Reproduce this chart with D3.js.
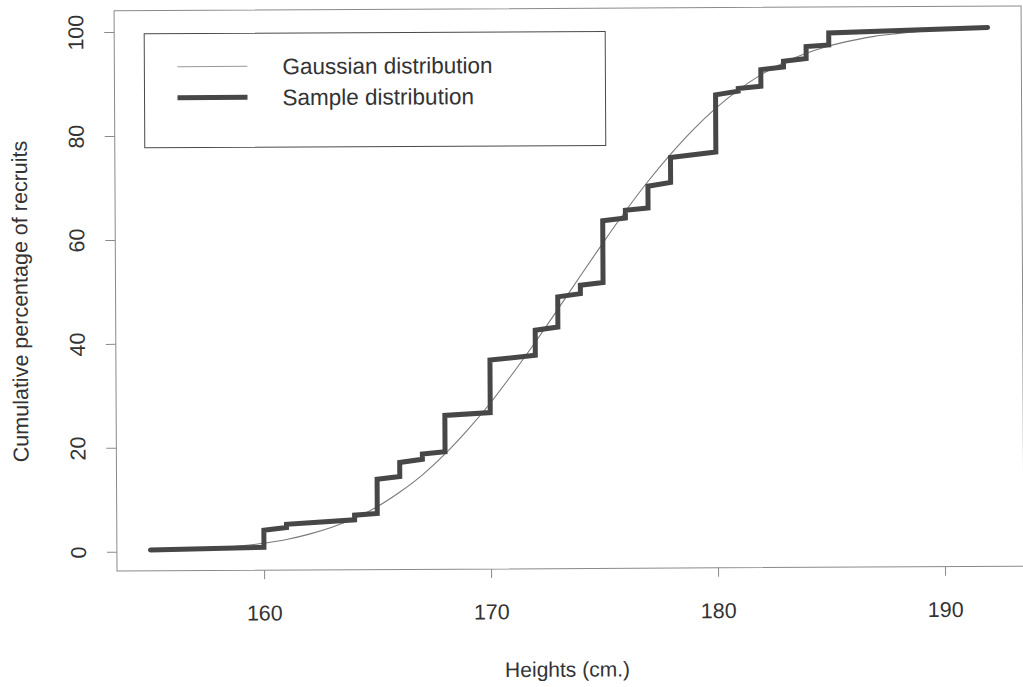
<!DOCTYPE html>
<html lang="en">
<head>
<meta charset="UTF-8">
<title>Cumulative distribution of recruit heights</title>
<script src="https://d3js.org/d3.v7.min.js"></script>
<style>
    body { margin: 0; background: #fff; }
    svg text { font-family: "Liberation Sans", Arial, sans-serif; fill: #333; }
</style>
</head>
<body>
<svg id="chart" width="1023" height="687"></svg>
<script>
    // Sample distribution: steps start at each height, level just after the jump and just before the next one
    const sampleHeights = [155, 160, 161, 164, 165, 166, 167, 168, 170, 172, 173, 174, 175, 176, 177, 178, 180, 181, 182, 183, 184, 185, 192];
    const levelStart = [0.3, 4.0, 5.1, 6.8, 13.7, 16.9, 18.5, 25.9, 36.5, 42.2, 48.6, 50.8, 63.2, 65.2, 69.8, 75.3, 87.3, 88.5, 92.1, 93.7, 96.5, 99.1];
    const levelEnd = [0.7, 4.5, 5.9, 7.1, 14.2, 17.5, 18.9, 26.4, 37.4, 42.8, 49.2, 51.3, 63.7, 65.6, 70.5, 76.3, 88.0, 88.9, 92.6, 94.2, 96.8, 100.0];

    const gaussHeights = d3.range(155, 193);
    const gaussValues = [0.1, 0.2, 0.4, 0.6, 1.0, 1.5, 2.2, 3.2, 4.5, 6.2, 8.4, 11.2, 14.5, 18.5, 23.1, 28.2, 33.9, 39.9, 46.2, 52.6,
        58.9, 65.0, 70.7, 75.9, 80.6, 84.7, 88.2, 91.1, 93.4, 95.2, 96.6, 97.6, 98.4, 98.9, 99.3, 99.6, 99.7, 99.8];

    const xTicks = [160, 170, 180, 190];
    const yTicks = [0, 20, 40, 60, 80, 100];
    const legendLabels = ["Gaussian distribution", "Sample distribution"];

    const svg = d3.select("#chart");
    // the original is a slightly skewed scan
    const g = svg.append("g").attr("transform", "rotate(-0.3, 117, 571)");

    const x = d3.scaleLinear().domain([153.52, 193.48]).range([117, 1024]);
    const y = d3.scaleLinear().domain([-3.7, 104.1]).range([571, 10.7]);

    // frame
    g.append("rect")
        .attr("x", x.range()[0]).attr("y", y.range()[1])
        .attr("width", x.range()[1] - x.range()[0])
        .attr("height", y.range()[0] - y.range()[1])
        .attr("fill", "none").attr("stroke", "#8a8a8a").attr("stroke-width", 1);

    // x axis
    const xAxis = g.append("g")
        .attr("transform", `translate(0,${y.range()[0]})`)
        .call(d3.axisBottom(x).tickValues(xTicks).tickSize(9).tickPadding(26).tickFormat(d3.format("d")));
    xAxis.select(".domain").remove();
    xAxis.selectAll("line").attr("stroke", "#8a8a8a");
    xAxis.selectAll("text").attr("font-size", 21.5).attr("fill", "#333");

    // y axis, labels turned like R does
    const yAxis = g.append("g")
        .attr("transform", `translate(${x.range()[0]},0)`)
        .call(d3.axisLeft(y).tickValues(yTicks).tickSize(10).tickFormat(d3.format("d")));
    yAxis.select(".domain").remove();
    yAxis.selectAll("line").attr("stroke", "#8a8a8a");
    yAxis.selectAll("text")
        .attr("x", null).attr("dy", null)
        .attr("transform", "translate(-31,0) rotate(-90)")
        .attr("text-anchor", "middle")
        .attr("font-size", 21.5).attr("fill", "#333");

    // axis titles
    g.append("text")
        .attr("x", 567).attr("y", 679)
        .attr("text-anchor", "middle").attr("font-size", 21)
        .text("Heights (cm.)");
    g.append("text")
        .attr("transform", "translate(29,301) rotate(-90)")
        .attr("text-anchor", "middle").attr("font-size", 21.5)
        .text("Cumulative percentage of recruits");

    // gaussian curve
    const line = d3.line().x(d => x(d[0])).y(d => y(d[1]));
    g.append("path")
        .datum(gaussHeights.map((h, i) => [h, gaussValues[i]]))
        .attr("d", line.curve(d3.curveMonotoneX))
        .attr("fill", "none").attr("stroke", "#7a7a7a").attr("stroke-width", 1.1);

    // sample step line
    const stepPts = [];
    levelStart.forEach((v, i) => {
        stepPts.push([sampleHeights[i], v]);
        stepPts.push([sampleHeights[i + 1], levelEnd[i]]);
    });
    g.append("path")
        .datum(stepPts)
        .attr("d", d3.line().x(d => x(d[0])).y(d => y(d[1])))
        .attr("fill", "none").attr("stroke", "#474747").attr("stroke-width", 5)
        .attr("stroke-linejoin", "miter").attr("stroke-linecap", "round");

    // legend
    const leg = g.append("g");
    leg.append("rect")
        .attr("x", 147).attr("y", 34).attr("width", 461).attr("height", 114)
        .attr("fill", "#fff").attr("stroke", "#4a4a4a").attr("stroke-width", 1);
    const legStyles = [{ stroke: "#9a9a9a", w: 1.1 }, { stroke: "#474747", w: 5 }];
    legendLabels.forEach((lab, i) => {
        const ly = 67 + i * 31;
        leg.append("line")
            .attr("x1", 180).attr("x2", 250).attr("y1", ly).attr("y2", ly)
            .attr("stroke", legStyles[i].stroke).attr("stroke-width", legStyles[i].w);
        leg.append("text")
            .attr("x", 285).attr("y", ly + 8)
            .attr("font-size", 22.5)
            .text(lab);
    });
</script>
</body>
</html>
